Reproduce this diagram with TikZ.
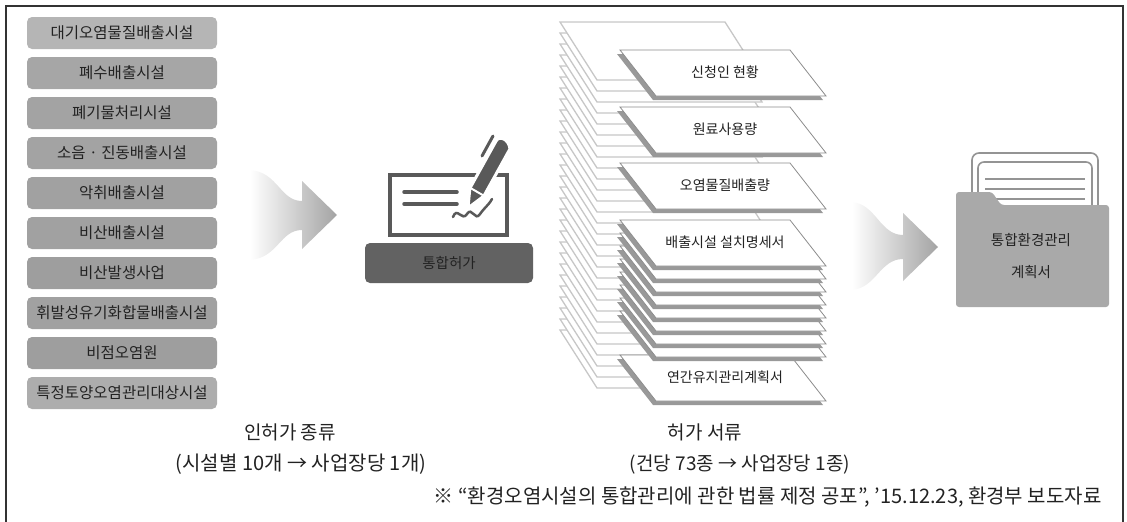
\documentclass[tikz,border=0pt]{standalone}
\usepackage{fontspec}
\setmainfont{Noto Sans CJK KR}
\usepackage{tikz}
\definecolor{textdark}{HTML}{222222}
\definecolor{framecol}{HTML}{333333}
\definecolor{icongray}{HTML}{595959}
\definecolor{buttongray}{HTML}{626262}
\definecolor{foldergray}{HTML}{A9A9A9}

\begin{document}
\begin{tikzpicture}[x=1pt,y=-1pt,
	facility/.style={rounded corners=5pt,minimum width=190pt,minimum height=32pt,inner sep=0pt,text=textdark,font=\fontsize{15.5}{16}\selectfont},
	caption/.style={text=textdark,font=\fontsize{19}{20}\selectfont},
	flowarrow/.style={left color=white,right color=black!36},
	backsheet/.style={fill=white,draw=black!22,line width=1.3pt},
	frontsheet/.style={fill=white,draw=black!45,line width=0.8pt},
	sheetshadow/.style={fill=black!40},
	sheetlabel/.style={text=textdark,font=\fontsize{14}{14}\selectfont},
	folderline/.style={draw=black!42,line width=1.6pt}]
	\useasboundingbox (0,0) rectangle (1127,522);
	\draw[line width=2pt,framecol] (6,522) -- (6,6) -- (1123,6) -- (1123,522);

	% facilities that needed their own permit
	\foreach \name/\tone [count=\i] in {대기오염물질배출시설/29,폐수배출시설/35,폐기물처리시설/36,소음 · 진동배출시설/36,악취배출시설/37,비산배출시설/37,비산발생사업/38,휘발성유기화합물배출시설/37,비점오염원/38,특정토양오염관리대상시설/32}
		\node[facility,fill=black!\tone] (fac\i) at (122,{33+40*(\i-1)}) {\name};
	\node[caption] (kinds) at (290,432) {인허가 종류};
	\node[caption,font=\fontsize{20}{20}\selectfont] (kindsnum) at (301,464) {(시설별 10개 → 사업장당 1개)};

	\shade[flowarrow] (250,170) .. controls (278,172) and (280,201) .. (302,201) -- (302,181) -- (337,215) -- (302,249) -- (302,230) .. controls (280,230) and (278,258) .. (250,260) -- cycle;

	% signing icon
	\draw[icongray,line width=4.5pt] (390,175) rectangle (507,235);
	\draw[icongray,line width=3.5pt,line cap=round] (404,192) -- (457,192) (404,204) -- (457,204);
	\draw[icongray,line width=2.5pt,line cap=round] (453,217) .. controls (457,206) and (462,222) .. (467,214) .. controls (472,206) and (475,222) .. (480,214) .. controls (484,208) and (488,206) .. (492,199);
	\filldraw[icongray,draw=white,line width=3pt,line join=round] (468,208) -- (469.8,188.4) -- (496,141.1) .. controls (499,135) and (509,139) .. (510,148.9) -- (483.8,196.2) -- cycle;
	\draw[white,line width=2pt] (467,186) -- (486,197);
	\draw[icongray,line width=3pt,line cap=round] (482,156) -- (493,136);
	\node[rounded corners=5pt,fill=buttongray,minimum width=168pt,minimum height=40pt,text=textdark,font=\fontsize{14.5}{14}\selectfont] (permit) at (449,263) {통합허가};

	% piles of documents
	\foreach \y in {330,319,...,22}
		\draw[backsheet] (560,\y) -- ++(165,0) -- ++(37,58) -- ++(-165,0) -- cycle;
	\foreach \y/\txt [count=\i] in {355/연간유지관리계획서,311/{},298/{},285/{},272/{},259/{},246/{},233/{},220/배출시설 설치명세서,163/오염물질배출량,107/원료사용량,50/신청인 현황} {
		\fill[sheetshadow] (617,{\y+4}) -- ++(170,0) -- ++(36,46) -- ++(-170,0) -- cycle;
		\draw[frontsheet] (620,\y) -- ++(170,0) -- ++(36,46) -- ++(-170,0) -- cycle;
		\node[sheetlabel] (doc\i) at (725,{\y+22}) {\txt};
	}
	\node[caption] (docs) at (705,432) {허가 서류};
	\node[caption] (docsnum) at (740,464) {(건당 73종 → 사업장당 1종)};

	\shade[flowarrow] (852,202) .. controls (876,204) and (880,235) .. (903,235) -- (903,213) -- (938,247) -- (903,281) -- (903,259) .. controls (880,259) and (876,288) .. (852,290) -- cycle;

	% folder
	\draw[folderline,fill=white,rounded corners=7pt] (972,215) -- (972,153) -- (1098,153) -- (1098,215);
	\draw[folderline,fill=white,rounded corners=6pt] (978,215) -- (978,162) -- (1092,162) -- (1092,215);
	\draw[folderline] (985,179) -- (1085,179) (985,189) -- (1085,189) (985,199) -- (1085,199);
	\fill[foldergray,rounded corners=3pt] (956,307) -- (956,192) -- (992,192) -- (1001,205) -- (1109,205) -- (1109,307) -- cycle;
	\node[text=textdark,align=center,font=\fontsize{14.5}{32}\selectfont] (plan) at (1031,256) {통합환경관리\\계획서};

	\node[anchor=east,text=textdark,font=\fontsize{20}{20}\selectfont] (source) at (1105,497) {※ “환경오염시설의 통합관리에 관한 법률 제정 공포”, ’15.12.23, 환경부 보도자료};
\end{tikzpicture}
\end{document}
